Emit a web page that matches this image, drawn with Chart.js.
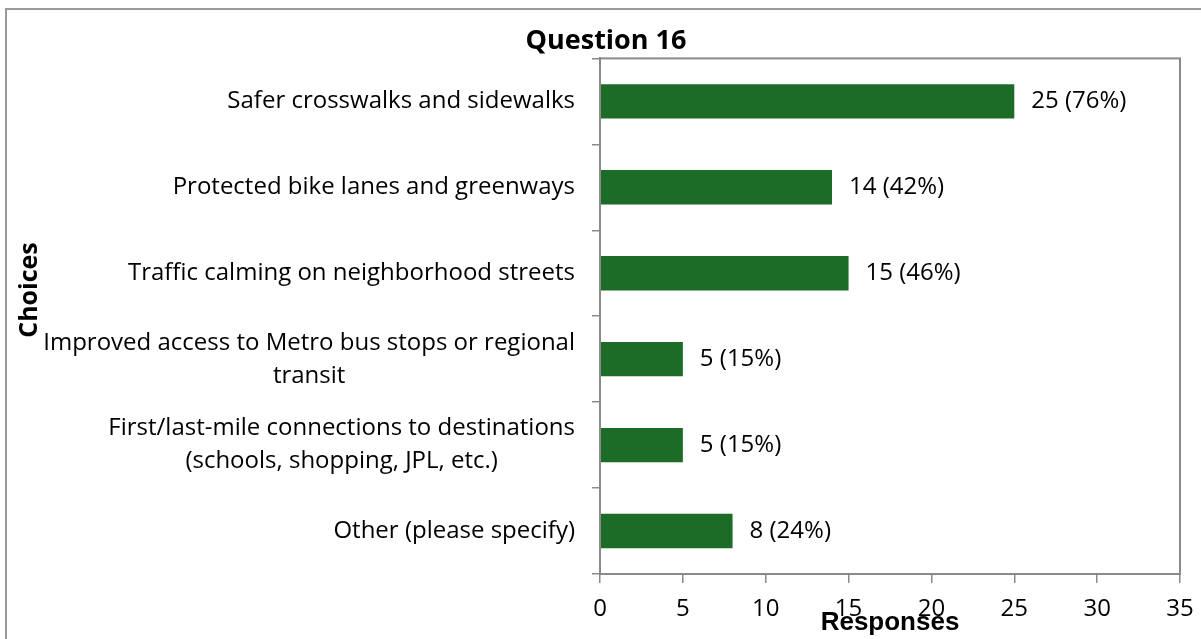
<!DOCTYPE html>
<html>
<head>
<meta charset="utf-8">
<script src="https://cdn.jsdelivr.net/npm/chart.js@4.4.0/dist/chart.umd.min.js"></script>
<style>
  html, body { margin: 0; padding: 0; background: #fff }
  canvas { display: block }
</style>
</head>
<body>
<canvas id="chart" width="1201" height="639"></canvas>
<script>
// data
var choices = [
  ['Safer crosswalks and sidewalks'],
  ['Protected bike lanes and greenways'],
  ['Traffic calming on neighborhood streets'],
  ['Improved access to Metro bus stops or regional', 'transit'],
  ['First/last-mile connections to destinations', '(schools, shopping, JPL, etc.)'],
  ['Other (please specify)']
]
var responses = [25, 14, 15, 5, 5, 8]
var percents = [76, 42, 46, 15, 15, 24]
var xMax = 35
var xStep = 5

var gray = '#8a8a8a'
var green = '#1c6b27'
var font = "'Open Sans', sans-serif"

// outer frame, plot box, category labels, value labels, y title
var decor = {
  id: 'decor',
  beforeDraw: function (chart) {
    var ctx = chart.ctx
    ctx.save()
    ctx.fillStyle = '#fff'
    ctx.fillRect(0, 0, chart.width, chart.height)
    ctx.strokeStyle = '#9a9a9a'
    ctx.lineWidth = 2
    ctx.strokeRect(6, 9, 1400, 800)
    ctx.restore()
  },
  afterDraw: function (chart) {
    var ctx = chart.ctx
    var area = chart.chartArea
    var yScale = chart.scales.y
    ctx.save()
    ctx.strokeStyle = gray
    ctx.lineWidth = 2
    ctx.strokeRect(area.left, area.top, area.right - area.left, area.bottom - area.top)

    // category labels: right edge at axis - 25, lines centred on each other
    ctx.fillStyle = '#000'
    ctx.font = '24px ' + font
    ctx.textAlign = 'center'
    ctx.textBaseline = 'middle'
    var lineH = 33
    choices.forEach(function (lines, i) {
      var y = yScale.getPixelForValue(i)
      var maxW = 0
      lines.forEach(function (l) { maxW = Math.max(maxW, ctx.measureText(l).width) })
      var cx = area.left - 25 - maxW / 2
      var y0 = y - (lines.length - 1) * lineH / 2
      lines.forEach(function (l, k) { ctx.fillText(l, cx, y0 + k * lineH) })
    })

    // value labels
    ctx.font = '24px ' + font
    ctx.textAlign = 'left'
    var meta = chart.getDatasetMeta(0)
    meta.data.forEach(function (bar, i) {
      ctx.fillText(responses[i] + ' (' + percents[i] + '%)', bar.x + 17, bar.y)
    })

    // y axis title
    ctx.font = 'bold 25px ' + font
    ctx.textAlign = 'center'
    ctx.translate(30, 290)
    ctx.rotate(-Math.PI / 2)
    ctx.fillText('Choices', 0, 0)
    ctx.restore()
  }
}

new Chart(document.getElementById('chart'), {
  type: 'bar',
  data: {
    labels: choices,
    datasets: [{
      data: responses,
      backgroundColor: green,
      borderWidth: 0,
      categoryPercentage: 0.4,
      barPercentage: 1
    }]
  },
  options: {
    indexAxis: 'y',
    responsive: false,
    animation: false,
    layout: { padding: { left: 32, right: 21, top: 0, bottom: 0 } },
    plugins: {
      legend: { display: false },
      tooltip: { enabled: false },
      title: {
        display: true,
        text: 'Question 16',
        color: '#000',
        font: { family: font, size: 27, weight: 'bold' },
        padding: { top: 25, bottom: 1 }
      }
    },
    scales: {
      x: {
        min: 0,
        max: xMax,
        ticks: { stepSize: xStep, color: '#000', padding: 12, font: { family: font, size: 24 } },
        grid: { drawOnChartArea: false, drawTicks: true, tickLength: 9, color: gray, lineWidth: 1.5 },
        border: { color: gray, width: 2 },
        title: {
          display: true,
          text: 'Responses',
          color: '#000',
          font: { family: "'Liberation Sans', Arial, sans-serif", size: 26, weight: 'bold' },
          padding: { top: 0, bottom: 1 }
        },
        afterFit: function (scale) {
          scale.height = 65
          scale.paddingLeft = 0
          scale.paddingRight = 0
        }
      },
      y: {
        ticks: { display: false },
        grid: { offset: true, drawOnChartArea: false, tickLength: 8, color: gray, lineWidth: 1.5 },
        border: { color: gray, width: 2 },
        afterFit: function (scale) { scale.width = 568 }
      }
    }
  },
  plugins: [decor]
})
</script>
</body>
</html>
